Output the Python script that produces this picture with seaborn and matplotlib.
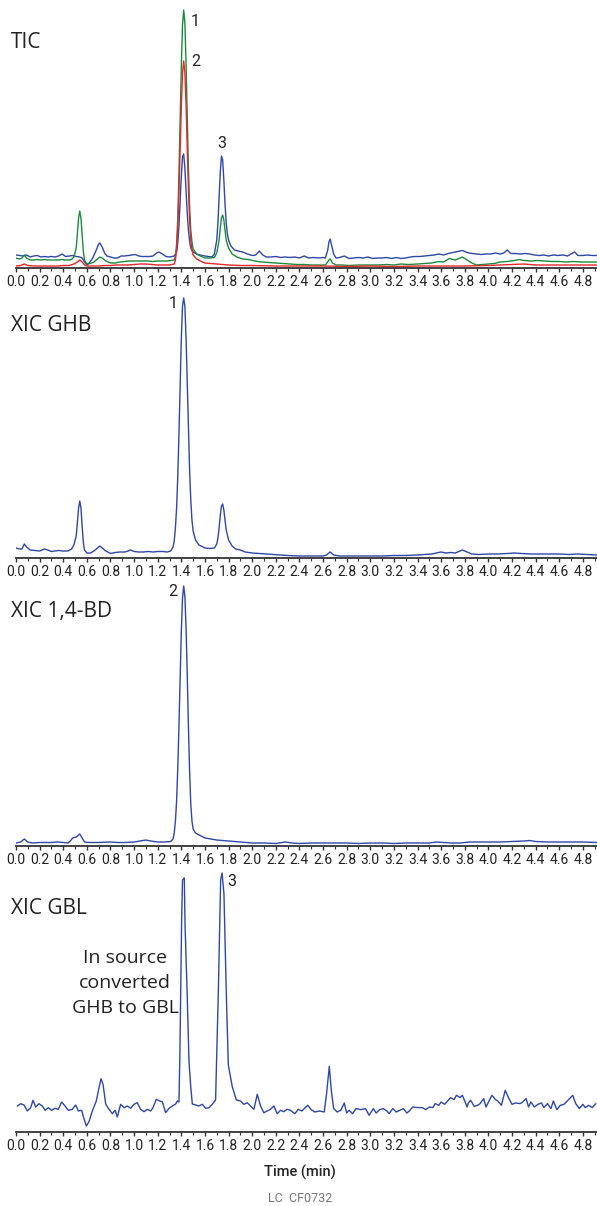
import numpy as np
import pandas as pd
import matplotlib
matplotlib.use("Agg")
import matplotlib.pyplot as plt
from matplotlib.ticker import MultipleLocator, FormatStrFormatter
import seaborn as sns

# ==========================================
# DATA  (time in min, intensity in arbitrary units)
# ==========================================

tic_blue = [
    (0.00, 13), (0.03, 12.5), (0.06, 12), (0.09, 13), (0.12, 11), (0.15, 12), (0.18, 12.5),
    (0.21, 11), (0.24, 11.5), (0.27, 11), (0.30, 11.5), (0.33, 11), (0.36, 12), (0.39, 14),
    (0.42, 11.5), (0.45, 12), (0.48, 12.5), (0.51, 11.5), (0.54, 11), (0.56, 10), (0.58, 6),
    (0.60, 3), (0.62, 5), (0.65, 10), (0.68, 18), (0.70, 24), (0.71, 25), (0.73, 21), (0.75, 15),
    (0.77, 12), (0.80, 11), (0.83, 10), (0.86, 10), (0.89, 12), (0.92, 12), (0.95, 12.5),
    (0.98, 13), (1.01, 13.5), (1.04, 12), (1.07, 11.5), (1.10, 11.5), (1.13, 11.5), (1.16, 12),
    (1.19, 15), (1.21, 16), (1.24, 14), (1.27, 11.5), (1.30, 11), (1.32, 11.5), (1.34, 12),
    (1.36, 16), (1.37, 25), (1.38, 42), (1.39, 66), (1.40, 92), (1.41, 111), (1.42, 114),
    (1.43, 100), (1.44, 78), (1.45, 55), (1.46, 38), (1.47, 27), (1.48, 20), (1.50, 16),
    (1.53, 14), (1.56, 13), (1.60, 12), (1.63, 11.5), (1.66, 11), (1.68, 14), (1.70, 28),
    (1.71, 45), (1.72, 70), (1.73, 96), (1.74, 112), (1.75, 108), (1.76, 88), (1.77, 64),
    (1.78, 45), (1.79, 34), (1.80, 28), (1.82, 22), (1.85, 18), (1.88, 17), (1.92, 16),
    (1.96, 14), (2.00, 12.5), (2.03, 13), (2.06, 17), (2.09, 13), (2.12, 11), (2.16, 11),
    (2.20, 11.5), (2.24, 10.5), (2.28, 11), (2.32, 10.5), (2.36, 11), (2.40, 10), (2.44, 12),
    (2.48, 10), (2.52, 10.5), (2.56, 10), (2.60, 10.5), (2.62, 10), (2.64, 18), (2.65, 26),
    (2.66, 29), (2.67, 24), (2.69, 14), (2.71, 10), (2.74, 10.5), (2.78, 12), (2.82, 9.5),
    (2.86, 10), (2.90, 10.5), (2.94, 10), (2.98, 11), (3.02, 9.5), (3.06, 10), (3.10, 10),
    (3.14, 10.5), (3.18, 9.5), (3.22, 10.5), (3.26, 9.5), (3.30, 10), (3.34, 11), (3.38, 11.5),
    (3.42, 11.5), (3.46, 12), (3.50, 12.5), (3.54, 13), (3.58, 14), (3.62, 13), (3.66, 14.5),
    (3.70, 15.5), (3.74, 16.5), (3.78, 17.5), (3.82, 15.5), (3.86, 14.5), (3.90, 14),
    (3.94, 13.5), (3.98, 14), (4.02, 14), (4.06, 15), (4.10, 14), (4.13, 15), (4.16, 18),
    (4.19, 14.5), (4.23, 14.5), (4.27, 14), (4.31, 14.5), (4.35, 14), (4.39, 13), (4.43, 12.5),
    (4.47, 13), (4.51, 12), (4.55, 13), (4.59, 12.5), (4.63, 13), (4.67, 12), (4.70, 14),
    (4.73, 16), (4.76, 12.5), (4.80, 12.5), (4.84, 13), (4.88, 12.5), (4.92, 12.5),
]

tic_green = [
    (0.00, 10), (0.03, 9), (0.05, 10), (0.07, 13), (0.09, 10), (0.12, 8), (0.15, 8), (0.18, 8.5),
    (0.21, 8), (0.24, 8.5), (0.27, 8), (0.30, 8), (0.33, 8), (0.36, 8), (0.39, 8.5), (0.42, 8),
    (0.45, 8), (0.47, 8.5), (0.49, 11), (0.51, 20), (0.52, 35), (0.53, 50), (0.54, 57),
    (0.55, 50), (0.56, 33), (0.57, 17), (0.58, 8), (0.60, 4), (0.63, 4.5), (0.66, 6), (0.69, 9),
    (0.71, 11), (0.73, 10), (0.76, 7), (0.80, 5), (0.84, 5), (0.88, 6), (0.92, 6.5), (0.96, 7),
    (1.00, 7), (1.04, 7), (1.08, 7), (1.12, 7), (1.16, 6.5), (1.20, 7), (1.24, 7), (1.28, 7),
    (1.31, 7.5), (1.34, 8), (1.35, 12), (1.36, 24), (1.37, 50), (1.38, 95), (1.39, 148),
    (1.40, 202), (1.41, 243), (1.42, 258), (1.43, 245), (1.44, 205), (1.45, 152), (1.46, 100),
    (1.47, 62), (1.48, 38), (1.49, 26), (1.50, 19), (1.53, 14), (1.56, 12), (1.60, 10),
    (1.64, 10), (1.68, 10.5), (1.70, 15), (1.72, 28), (1.73, 40), (1.74, 50), (1.75, 53),
    (1.76, 48), (1.77, 38), (1.78, 28), (1.80, 20), (1.83, 14), (1.87, 11), (1.92, 9),
    (1.97, 8.5), (2.02, 7), (2.08, 6), (2.14, 5.5), (2.20, 5), (2.26, 4.5), (2.32, 4),
    (2.38, 3.5), (2.44, 3.5), (2.50, 3), (2.56, 3), (2.62, 3), (2.65, 8), (2.66, 9), (2.68, 5),
    (2.71, 3), (2.76, 3), (2.82, 2.5), (2.90, 3), (2.98, 3), (3.06, 3), (3.14, 3.5), (3.20, 3),
    (3.26, 4), (3.32, 3.5), (3.40, 4), (3.46, 4.5), (3.52, 5), (3.58, 6.5), (3.62, 6),
    (3.67, 9.5), (3.72, 8), (3.78, 11), (3.82, 8), (3.86, 5), (3.90, 3), (3.95, 3.5), (4.00, 4),
    (4.05, 4.5), (4.10, 6), (4.16, 6.5), (4.22, 7.5), (4.26, 8.5), (4.30, 7.5), (4.36, 7),
    (4.42, 7.5), (4.48, 7), (4.54, 6.5), (4.60, 6.5), (4.66, 6), (4.72, 6.5), (4.78, 6),
    (4.84, 6), (4.92, 6),
]

tic_red = [
    (0.00, 2), (0.04, 2.5), (0.07, 4), (0.10, 2.5), (0.15, 2), (0.20, 2), (0.25, 2), (0.30, 2),
    (0.35, 2), (0.40, 2.5), (0.45, 2.5), (0.49, 4), (0.52, 6), (0.54, 8), (0.56, 6), (0.58, 3),
    (0.60, 2), (0.65, 2), (0.70, 2), (0.75, 2.5), (0.80, 2.5), (0.85, 3), (0.90, 3), (0.95, 3),
    (1.00, 3.5), (1.05, 4), (1.10, 4), (1.15, 3.5), (1.20, 3), (1.25, 3), (1.30, 3), (1.34, 4),
    (1.35, 8), (1.36, 18), (1.37, 40), (1.38, 76), (1.39, 118), (1.40, 162), (1.41, 195),
    (1.42, 207), (1.43, 196), (1.44, 164), (1.45, 120), (1.46, 80), (1.47, 48), (1.48, 28),
    (1.49, 18), (1.50, 13), (1.53, 9), (1.56, 7), (1.60, 5), (1.70, 4), (1.80, 3), (1.90, 2.5),
    (2.00, 2.5), (2.20, 2), (2.40, 2), (2.60, 2), (2.80, 1.5), (3.00, 2), (3.20, 1.5), (3.40, 2),
    (3.60, 2), (3.80, 2), (4.00, 2.5), (4.10, 3), (4.20, 3.5), (4.30, 4), (4.40, 3), (4.50, 3),
    (4.60, 3), (4.70, 3), (4.80, 3), (4.92, 3),
]

ghb = [
    (0.00, 10), (0.03, 9), (0.05, 9), (0.07, 14), (0.09, 11), (0.12, 8), (0.16, 7.5), (0.20, 7),
    (0.24, 9), (0.27, 8), (0.30, 6.5), (0.33, 7), (0.36, 7.5), (0.40, 7), (0.44, 7), (0.47, 9),
    (0.49, 13), (0.51, 22), (0.52, 36), (0.53, 50), (0.54, 57), (0.55, 50), (0.56, 32),
    (0.57, 16), (0.58, 8), (0.60, 5), (0.63, 5), (0.66, 7), (0.69, 10), (0.71, 12), (0.73, 10),
    (0.76, 7), (0.80, 4.5), (0.84, 5.5), (0.88, 6), (0.92, 6), (0.95, 7), (0.97, 8), (1.00, 6.5),
    (1.04, 6), (1.08, 6), (1.12, 6.5), (1.16, 6), (1.20, 6.5), (1.24, 6.5), (1.28, 6), (1.31, 7),
    (1.33, 11), (1.34, 17), (1.35, 30), (1.36, 50), (1.37, 82), (1.38, 124), (1.39, 172),
    (1.40, 220), (1.41, 252), (1.42, 260), (1.43, 252), (1.44, 220), (1.45, 176), (1.46, 128),
    (1.47, 88), (1.48, 58), (1.49, 38), (1.50, 27), (1.52, 18), (1.55, 13), (1.60, 10),
    (1.64, 9.5), (1.68, 10), (1.70, 14), (1.71, 20), (1.72, 30), (1.73, 43), (1.74, 52),
    (1.75, 54), (1.76, 48), (1.77, 38), (1.78, 28), (1.80, 18), (1.83, 12), (1.86, 9), (1.90, 8),
    (1.94, 6), (2.00, 5), (2.06, 4.5), (2.12, 4), (2.18, 3.5), (2.24, 3), (2.30, 2.5), (2.40, 2),
    (2.50, 2), (2.60, 2), (2.63, 3), (2.66, 6), (2.69, 3), (2.74, 2), (2.85, 2), (3.00, 2),
    (3.10, 2), (3.20, 2.5), (3.30, 2.5), (3.40, 3), (3.46, 3.5), (3.52, 4), (3.56, 5), (3.60, 6),
    (3.64, 5), (3.68, 5.5), (3.72, 5), (3.76, 7), (3.78, 8), (3.82, 6), (3.86, 4), (3.92, 3.5),
    (4.00, 4), (4.08, 4), (4.16, 4.5), (4.22, 5), (4.28, 4.5), (4.36, 4), (4.44, 4), (4.52, 4),
    (4.60, 4), (4.68, 3.5), (4.76, 4), (4.84, 3.5), (4.92, 3),
]

bd = [
    (0.00, 3), (0.04, 4), (0.07, 7), (0.10, 4), (0.14, 3), (0.20, 3.5), (0.25, 3.5), (0.30, 3.5),
    (0.35, 4), (0.40, 3.5), (0.44, 3), (0.46, 5), (0.48, 8), (0.51, 9), (0.54, 12), (0.56, 8),
    (0.58, 4), (0.62, 3.5), (0.70, 3.5), (0.80, 4), (0.86, 3.5), (0.92, 3.5), (1.00, 4),
    (1.05, 5), (1.10, 6), (1.14, 5), (1.20, 4), (1.26, 4), (1.31, 4.5), (1.33, 7), (1.34, 13),
    (1.35, 25), (1.36, 45), (1.37, 78), (1.38, 120), (1.39, 168), (1.40, 215), (1.41, 248),
    (1.42, 260), (1.43, 250), (1.44, 218), (1.45, 172), (1.46, 120), (1.47, 75), (1.48, 42),
    (1.49, 25), (1.50, 17), (1.52, 13), (1.55, 11), (1.60, 8), (1.70, 6), (1.80, 5), (1.90, 4),
    (2.00, 3), (2.10, 3), (2.20, 2.5), (2.28, 4), (2.34, 3), (2.40, 2.5), (2.50, 3), (2.60, 3),
    (2.70, 3), (2.80, 3), (2.90, 2.5), (3.00, 3), (3.10, 3), (3.20, 2.5), (3.30, 3), (3.40, 3),
    (3.50, 3), (3.56, 4), (3.62, 3.5), (3.68, 3), (3.76, 3), (3.84, 4), (3.92, 4), (4.00, 4),
    (4.10, 4), (4.20, 4.5), (4.30, 5), (4.35, 5.5), (4.40, 4.5), (4.50, 4), (4.60, 4),
    (4.70, 4), (4.80, 4), (4.92, 3.5),
]

gbl = [
    (0.011, 26), (0.04, 28.3), (0.068, 27), (0.096, 21), (0.124, 24.3), (0.144, 31.7),
    (0.167, 25), (0.195, 28.3), (0.223, 26), (0.246, 21.7), (0.274, 24.3), (0.302, 21.7),
    (0.330, 23.7), (0.358, 22.7), (0.387, 30), (0.415, 26), (0.443, 21.7), (0.477, 22.7),
    (0.505, 27), (0.528, 21), (0.556, 21.7), (0.573, 14.3), (0.596, 6), (0.618, 10.3),
    (0.646, 21), (0.68, 31), (0.703, 44.3), (0.72, 53.3), (0.737, 47.7), (0.76, 27.7),
    (0.788, 22.7), (0.816, 18.3), (0.839, 21.7), (0.858, 15), (0.886, 27.7), (0.915, 24.3),
    (0.943, 26), (0.971, 23.7), (0.999, 27.7), (1.027, 29.3), (1.055, 22.7), (1.084, 20.3),
    (1.112, 22.7), (1.140, 21), (1.16, 24.3), (1.188, 32.7), (1.216, 31), (1.239, 30.3),
    (1.267, 19.3), (1.296, 23.7), (1.324, 26), (1.352, 28), (1.366, 31), (1.38, 30),
    (1.388, 80), (1.395, 140), (1.403, 215), (1.41, 252), (1.425, 254), (1.432, 205),
    (1.451, 132), (1.465, 70), (1.48, 45), (1.493, 28), (1.521, 27), (1.549, 26),
    (1.578, 27.7), (1.606, 23.7), (1.634, 24.3), (1.662, 27.7), (1.69, 32), (1.713, 138),
    (1.733, 252), (1.745, 259), (1.761, 238), (1.781, 138), (1.798, 67), (1.832, 45),
    (1.866, 32), (1.902, 31), (1.930, 27.7), (1.958, 29.3), (1.986, 26), (2.015, 22.7),
    (2.043, 37.7), (2.071, 26), (2.099, 19.3), (2.127, 21), (2.155, 22.7), (2.184, 26),
    (2.212, 18.3), (2.24, 21.7), (2.268, 20.3), (2.296, 22.7), (2.324, 21.7), (2.361, 18.3),
    (2.39, 22.7), (2.42, 21), (2.47, 26.7), (2.50, 22.4), (2.53, 20), (2.57, 21), (2.61, 20),
    (2.63, 38.4), (2.653, 65.7), (2.67, 41.7), (2.69, 23.4), (2.72, 20), (2.75, 21.7),
    (2.78, 29), (2.80, 19), (2.82, 21.7), (2.85, 18.4), (2.88, 23.4), (2.92, 22.4),
    (2.96, 23.4), (2.99, 16.7), (3.026, 23.4), (3.05, 19), (3.08, 22.4), (3.11, 23.4),
    (3.14, 21), (3.16, 18.4), (3.19, 23.4), (3.22, 20), (3.28, 23.4), (3.31, 19), (3.33, 21),
    (3.36, 25), (3.40, 24.4), (3.44, 24.4), (3.47, 22.4), (3.50, 25), (3.53, 24.4),
    (3.55, 28.4), (3.58, 26.7), (3.60, 30), (3.63, 27.7), (3.66, 31.7), (3.68, 34.4),
    (3.71, 32.4), (3.73, 36.7), (3.76, 34.4), (3.78, 36.7), (3.80, 31), (3.82, 25), (3.83, 29),
    (3.85, 31.7), (3.88, 25.7), (3.91, 26.7), (3.93, 28.4), (3.96, 33.4), (3.98, 25),
    (4.03, 36.7), (4.06, 32.4), (4.08, 31), (4.11, 26.7), (4.143, 41.7), (4.17, 34.4),
    (4.20, 27.7), (4.23, 29), (4.27, 28.4), (4.29, 30), (4.32, 33.4), (4.34, 25), (4.36, 30),
    (4.39, 25), (4.42, 27.7), (4.45, 29), (4.47, 24.4), (4.50, 28.4), (4.53, 23.4), (4.55, 31),
    (4.58, 22.4), (4.61, 26.7), (4.64, 27.7), (4.66, 30), (4.714, 36.7), (4.74, 28.4),
    (4.77, 23.4), (4.80, 27.7), (4.82, 24.4), (4.85, 26.7), (4.88, 24.4), (4.91, 28.4),
]

panel_titles = ["TIC", "XIC GHB", "XIC 1,4-BD", "XIC GBL"]

# ==========================================
# STYLE
# ==========================================

BLUE = "#2f47a6"
GREEN = "#1c8a3c"
RED = "#e8262b"

sns.set_theme(style="white")
plt.rcParams["font.family"] = ["Open Sans", "DejaVu Sans"]

TICK_FONT = ["Liberation Sans Narrow", "Roboto", "DejaVu Sans"]

W, H = 597, 1206
fig = plt.figure(figsize=(W / 100, H / 100), dpi=100)


def fx(x):
    return x / W


def fy(y):
    return 1 - y / H


# axis line y (px from top) for each panel
baselines = [268, 558, 846, 1132]
panel_h = 262
left_px = 16

traces = [
    [(tic_blue, BLUE), (tic_green, GREEN), (tic_red, RED)],
    [(ghb, BLUE)],
    [(bd, BLUE)],
    [(gbl, BLUE)],
]

axes = []
for base, series in zip(baselines, traces):
    ax = fig.add_axes([fx(left_px), fy(base), fx(W - left_px), panel_h / H])
    for pts, color in series:
        df = pd.DataFrame(pts, columns=["time", "intensity"])
        sns.lineplot(data=df, x="time", y="intensity", ax=ax, color=color,
                     linewidth=1.0, estimator=None, sort=False)
    ax.set_xlim(0, 4.92)
    ax.set_ylim(0, panel_h)
    ax.set_yticks([])
    ax.set_xlabel("")
    ax.set_ylabel("")
    for s in ["left", "top", "right"]:
        ax.spines[s].set_visible(False)
    ax.spines["bottom"].set_color("#333333")
    ax.spines["bottom"].set_linewidth(1.3)
    ax.xaxis.set_major_locator(MultipleLocator(0.2))
    ax.xaxis.set_minor_locator(MultipleLocator(0.1))
    ax.xaxis.set_major_formatter(FormatStrFormatter("%.1f"))
    ax.tick_params(axis="x", which="major", direction="out", length=3, width=1,
                   color="#333333", pad=2, labelsize=10, labelcolor="#222222")
    ax.tick_params(axis="x", which="minor", direction="out", length=2, width=0.8,
                   color="#333333")
    ax.tick_params(axis="x", bottom=True, which="both")
    for lab in ax.get_xticklabels():
        lab.set_fontfamily(TICK_FONT)
    axes.append(ax)

# ==========================================
# TEXT
# ==========================================

title_pos = [(11, 42), (11, 325), (11, 612), (11, 908)]
for (x, y), t in zip(title_pos, panel_titles):
    fig.text(fx(x), fy(y), t, fontsize=15, color="#222222", ha="left", va="center")

peak_labels = [("1", 195, 22), ("2", 196, 62), ("3", 222, 143),
               ("1", 173, 304), ("2", 173, 592), ("3", 232, 881)]
for t, x, y in peak_labels:
    fig.text(fx(x), fy(y), t, fontsize=11.5, color="#222222", ha="center", va="center",
             family=TICK_FONT)

for t, y in [("In source", 958), ("converted", 983), ("GHB to GBL", 1008)]:
    fig.text(fx(125), fy(y), t, fontsize=14, color="#222222", ha="center", va="center")

fig.text(fx(300), fy(1172), "Time (min)", fontsize=10.5, color="#222222",
         ha="center", va="center", family=TICK_FONT, fontweight="medium")
fig.text(fx(300), fy(1199), "LC  CF0732", fontsize=9, color="#777777",
         ha="center", va="center", family=TICK_FONT)

fig.savefig("out.png", dpi=100)
